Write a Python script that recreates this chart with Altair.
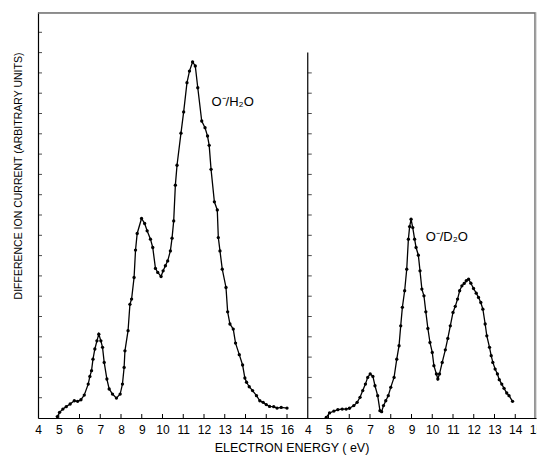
import altair as alt
import pandas as pd

# ---- data ----
e_h2o = [4.93, 5.04, 5.2, 5.36, 5.55, 5.75, 5.91, 6.07, 6.23, 6.42, 6.5, 6.58, 6.65, 6.74, 6.84,
         6.93, 7.03, 7.11, 7.19, 7.32, 7.43, 7.59, 7.78, 7.96, 8.07, 8.15, 8.19, 8.34, 8.43, 8.51,
         8.63, 8.7, 8.78, 8.99, 9.14, 9.26, 9.42, 9.53, 9.66, 9.77, 9.93, 10.03, 10.14, 10.25,
         10.38, 10.46, 10.54, 10.62, 10.7, 10.89, 11.02, 11.18, 11.3, 11.45, 11.58, 11.7, 11.89,
         12.05, 12.17, 12.25, 12.34, 12.5, 12.64, 12.69, 12.77, 12.88, 13.06, 13.14, 13.25, 13.41,
         13.52, 13.7, 13.86, 13.97, 14.05, 14.18, 14.34, 14.53, 14.69, 14.85, 15.0, 15.16, 15.36,
         15.52, 15.72, 16.0]
i_h2o = [0.07, 0.28, 0.44, 0.56, 0.69, 0.85, 0.82, 0.9, 1.13, 1.67, 2.05, 2.33, 2.9, 3.4, 3.8,
         4.13, 3.8, 3.48, 2.74, 1.92, 1.43, 1.18, 0.98, 1.18, 1.67, 2.49, 3.31, 4.3, 5.6, 5.86,
         6.92, 8.27, 9.09, 9.83, 9.58, 9.22, 8.81, 8.4, 7.37, 7.17, 6.97, 7.25, 7.5, 7.74,
         8.23, 8.86, 9.71, 11.47, 12.45, 14.03, 15.08, 16.52, 17.09, 17.54, 17.34, 16.27, 14.63,
         14.3, 13.89, 13.43, 12.25, 10.65, 10.25, 8.89, 8.23, 7.33, 6.43, 5.23, 4.63, 4.38,
         3.69, 3.12, 2.61, 1.97, 1.76, 1.54, 1.35, 1.1, 0.85, 0.77, 0.66, 0.57, 0.56,
         0.49, 0.52, 0.49]

e_d2o = [4.89, 5.05, 5.26, 5.45, 5.66, 5.85, 6.01, 6.22, 6.38, 6.52, 6.65, 6.78, 6.89, 7.01,
         7.14, 7.24, 7.37, 7.48, 7.56, 7.65, 7.76, 7.88, 8.0, 8.16, 8.29, 8.4, 8.48, 8.56, 8.67,
         8.77, 8.85, 8.91, 8.98, 9.06, 9.15, 9.22, 9.33, 9.41, 9.5, 9.6, 9.69, 9.79, 9.89, 10.0,
         10.08, 10.2, 10.27, 10.35, 10.48, 10.63, 10.75, 10.87, 11.0, 11.11, 11.22, 11.32, 11.43,
         11.54, 11.64, 11.75, 11.86, 11.99, 12.12, 12.23, 12.34, 12.44, 12.55, 12.63, 12.76,
         12.84, 12.92, 13.03, 13.14, 13.23, 13.35, 13.46, 13.59, 13.7, 13.87]
i_d2o = [0.03, 0.25, 0.34, 0.41, 0.44, 0.44, 0.48, 0.61, 0.77, 1.02, 1.35, 1.67, 2.0, 2.17,
         2.05, 1.59, 1.1, 0.36, 0.31, 0.61, 0.85, 1.1, 1.51, 2.0, 2.9, 3.56, 4.54, 5.45, 6.27,
         7.33, 8.81, 9.43, 9.79, 9.38, 8.81, 8.4, 8.02, 7.25, 6.35, 6.02, 5.23, 4.41, 3.72, 3.23,
         2.58, 2.17, 1.92, 2.17, 2.74, 3.36, 3.92, 4.54, 5.2, 5.5, 5.86, 6.27, 6.51,
         6.63, 6.76, 6.84, 6.64, 6.38, 6.15, 5.94, 5.69, 5.36, 4.63, 4.05, 3.48,
         3.07, 2.74, 2.41, 2.17, 1.89, 1.67, 1.46, 1.23, 1.1, 0.82]

# tick labels of the two panels (energy, eV)
x_labels_left = list(range(4, 17))
x_labels_right = list(range(4, 16))
y_ticks_left = list(range(1, 20))
y_ticks_right = list(range(1, 18))
left_end = 17          # left panel spans 4..17 eV
right_end = 15         # right panel spans 4..15 eV
y_top = 20
right_axis_top = 18
OFFSET = left_end - 4  # right panel placed after the left one on one shared axis

label_h2o = "O\u207b/H\u2082O"
label_d2o = "O\u207b/D\u2082O"
label_pos_h2o = (13.38, 15.55)
label_pos_d2o = (10.7, 8.9)
y_title = "DIFFERENCE  ION  CURRENT  (ARBITRARY  UNITS)"
x_title = "ELECTRON  ENERGY ( eV)"

FONT = "Liberation Sans"
TICK = 4
W = 498
H = 406
PAD_L, PAD_T = 30, 4
SVG_W, SVG_H = 529, 447

xs = alt.Scale(domain=[4, right_end + OFFSET], nice=False, zero=False)
ys = alt.Scale(domain=[0, y_top], nice=False, zero=False)

axis_values = x_labels_left + [v + OFFSET for v in x_labels_right]
xaxis = alt.Axis(values=axis_values, ticks=False, grid=False, domain=True, domainColor="black",
                 domainWidth=1.2, labelFontSize=12, labelFont=FONT, labelColor="black",
                 labelPadding=6, labelFlush=False, labelOverlap=False, labelBound=False,
                 labelExpr=f"datum.value > {left_end - 0.5} ? datum.value - {OFFSET} : datum.value",
                 title=None)
yaxis = alt.Axis(ticks=False, labels=False, grid=False, domain=True, domainColor="black",
                 domainWidth=1.2, title=None)


def X(field):
    return alt.X(field, scale=xs, axis=xaxis)


def Y(field):
    return alt.Y(field, scale=ys, axis=yaxis)


df_h = pd.DataFrame({"E": e_h2o, "I": i_h2o})
df_d = pd.DataFrame({"E": e_d2o, "I": i_d2o})

h_base = alt.Chart(df_h).transform_calculate(X="datum.E").encode(x=X("X:Q"), y=Y("I:Q"))
d_base = alt.Chart(df_d).transform_calculate(X=f"datum.E + {OFFSET}").encode(x=X("X:Q"), y=Y("I:Q"))

layers = []

# frame: top line and right border as a polyline just inside the plot edge
frame_df = pd.DataFrame({
    "fx": [4, right_end + OFFSET - 0.05, right_end + OFFSET - 0.05],
    "fy": [y_top - 0.05, y_top - 0.05, 0],
    "o": [0, 1, 2],
})
layers.append(alt.Chart(frame_df).mark_line(color="#707070", strokeWidth=1.4).encode(
    x=X("fx:Q"), y=Y("fy:Q"), order="o:Q"))

for b in (h_base, d_base):
    layers.append(b.mark_line(color="black", strokeWidth=1.3))
    layers.append(b.mark_circle(color="black", opacity=1, size=11))

# inward y ticks on both panel axes
ytk = pd.DataFrame({
    "x": [4] * len(y_ticks_left) + [4 + OFFSET] * len(y_ticks_right),
    "v": y_ticks_left + y_ticks_right,
})
layers.append(alt.Chart(ytk).mark_tick(color="black", thickness=1, size=TICK, orient="horizontal",
                                       xOffset=TICK / 2).encode(x=X("x:Q"), y=Y("v:Q")))

# inward x ticks
xtk = pd.DataFrame({"t": x_labels_left[1:] + [v + OFFSET for v in x_labels_right[1:-1]]})
layers.append(alt.Chart(xtk).mark_rule(color="black", strokeWidth=1).encode(
    x=X("t:Q"), y=alt.value(H), y2=alt.value(H - TICK)))

# axis of the right panel
raxis = pd.DataFrame({"x": [4 + OFFSET], "a": [0], "b": [right_axis_top]})
layers.append(alt.Chart(raxis).mark_rule(color="black", strokeWidth=1.2).encode(
    x=X("x:Q"), y=Y("a:Q"), y2=alt.Y2("b")))

# labels in panels
lab = pd.DataFrame({"x": [label_pos_h2o[0], label_pos_d2o[0] + OFFSET],
                    "y": [label_pos_h2o[1], label_pos_d2o[1]], "t": [label_h2o, label_d2o]})
layers.append(alt.Chart(lab).mark_text(font=FONT, fontSize=13, color="black").encode(
    x=X("x:Q"), y=Y("y:Q"), text="t:N"))

# axis titles
layers.append(alt.Chart(pd.DataFrame({"t": [y_title]})).mark_text(
    font=FONT, fontSize=10.5, color="black", angle=270, baseline="middle", align="center").encode(
    x=alt.value(-19), y=alt.value(164), text="t:N"))
layers.append(alt.Chart(pd.DataFrame({"t": [x_title]})).mark_text(
    font=FONT, fontSize=12.5, color="black", baseline="middle", align="center").encode(
    x=alt.value(254), y=alt.value(H + 30), text="t:N"))

chart = alt.layer(*layers).properties(
    width=W, height=H,
    autosize=alt.AutoSizeParams(type="none"),
    padding={"left": PAD_L, "top": PAD_T, "right": SVG_W - PAD_L - W, "bottom": SVG_H - PAD_T - H},
).configure_view(stroke=None).configure(background="white")

chart.save("out.html", embed_options={"renderer": "svg", "actions": False})
